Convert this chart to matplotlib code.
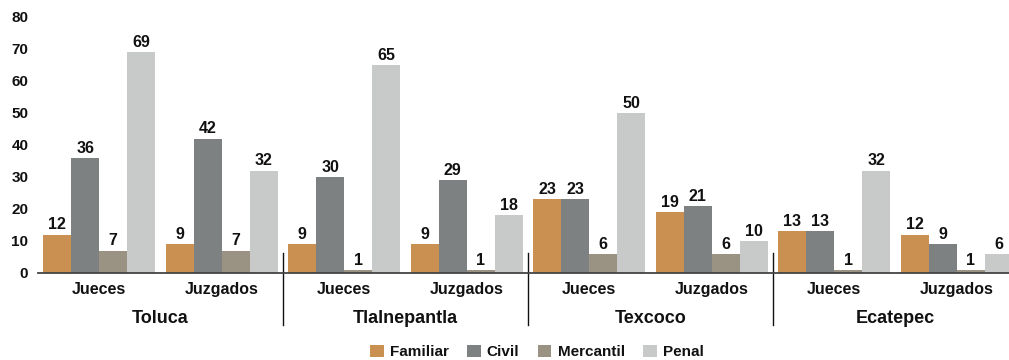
import numpy as np
import matplotlib.pyplot as plt
from matplotlib.transforms import blended_transform_factory

plt.rcParams['font.family'] = ['Liberation Sans', 'DejaVu Sans']

regiones = ["Toluca", "Tlalnepantla", "Texcoco", "Ecatepec"]
subgrupos = ["Jueces", "Juzgados"]
series = ["Familiar", "Civil", "Mercantil", "Penal"]
colores = ["#C99051", "#7E8182", "#9A9383", "#C8C9C9"]

familiar = [12, 9, 9, 9, 23, 19, 13, 12]
civil = [36, 42, 30, 29, 23, 21, 13, 9]
mercantil = [7, 7, 1, 1, 6, 6, 1, 1]
penal = [69, 32, 65, 18, 50, 10, 32, 6]
valores = [familiar, civil, mercantil, penal]

fig = plt.figure(figsize=(10.09, 3.6), dpi=100)
ax = fig.add_axes([38 / 1009, 87 / 360, 980 / 1009, 256 / 360])

x = np.arange(len(familiar))
ancho = 0.2286
for i, (nombre, vals, c) in enumerate(zip(series, valores, colores)):
    pos = x + (i - 1.5) * ancho
    ax.bar(pos, vals, width=ancho, color=c, label=nombre, linewidth=0)
    for p, v in zip(pos, vals):
        ax.text(p, v + 0.7, str(v), ha='center', va='bottom',
                fontsize=11.5, fontweight='bold', color='#111111')

ax.set_xlim(-0.5, 7.5)
ax.set_ylim(0, 80)
ax.set_yticks(range(0, 81, 10))
ax.set_xticks([])
ax.tick_params(axis='y', length=0, pad=7, labelsize=11)
for lbl in ax.get_yticklabels():
    lbl.set_fontweight('bold')
    lbl.set_color('#111111')

for s in ['top', 'right', 'left']:
    ax.spines[s].set_visible(False)
ax.spines['bottom'].set_color('#444444')
ax.spines['bottom'].set_linewidth(1.3)

trans = blended_transform_factory(ax.transData, ax.transAxes)
for i in range(len(familiar)):
    ax.text(i, -0.066, subgrupos[i % 2], transform=trans, ha='center',
            va='center', fontsize=11.5, fontweight='bold', color='#111111')
for j, r in enumerate(regiones):
    ax.text(2 * j + 0.5, -0.176, r, transform=trans, ha='center',
            va='center', fontsize=13, fontweight='bold', color='#111111')
for j in range(1, len(regiones)):
    ax.plot([2 * j - 0.5, 2 * j - 0.5], [0.078, -0.203], transform=trans,
            color='#111111', linewidth=1, clip_on=False)

leg = fig.legend(loc='center', bbox_to_anchor=(0.532, 0.022), ncol=4,
                 frameon=False, fontsize=11, handlelength=0.9,
                 handleheight=0.9, handletextpad=0.4, columnspacing=1.2)
for t in leg.get_texts():
    t.set_fontweight('bold')
    t.set_color('#111111')

fig.savefig("out.png", dpi=100, facecolor='white')
